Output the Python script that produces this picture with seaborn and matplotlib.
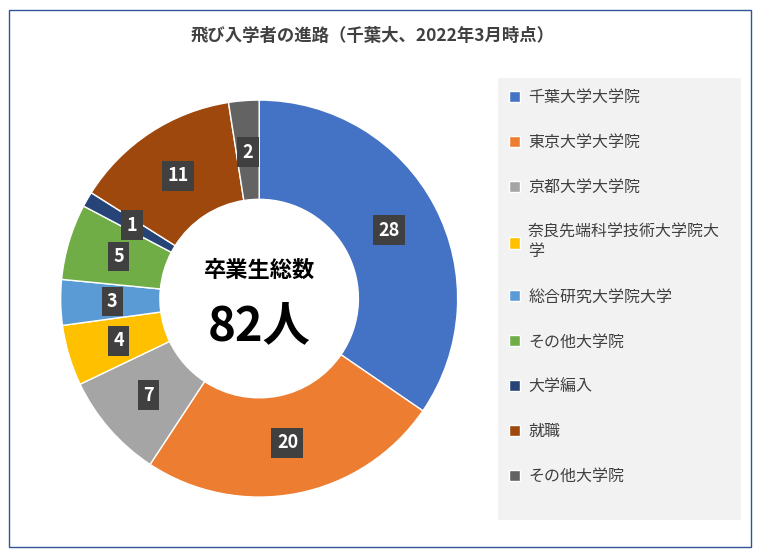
import matplotlib
matplotlib.use("Agg")
import matplotlib.pyplot as plt
import seaborn as sns
import numpy as np

plt.rcParams["font.family"] = ["Noto Sans CJK JP"]

categories = ["千葉大学大学院", "東京大学大学院", "京都大学大学院", "奈良先端科学技術大学院大\n学",
              "総合研究大学院大学", "その他大学院", "大学編入", "就職", "その他大学院"]
counts = [28, 20, 7, 4, 3, 5, 1, 11, 2]
colors = sns.color_palette(["#4472C4", "#ED7D31", "#A5A5A5", "#FFC000", "#5B9BD5",
                            "#70AD47", "#264478", "#9E480E", "#636363"])
title = "飛び入学者の進路（千葉大、2022年3月時点）"
center_top = "卒業生総数"
center_bottom = "82人"

sns.set_theme(style="white", rc={"font.family": "Noto Sans CJK JP"})
fig = plt.figure(figsize=(7.6, 5.56), dpi=100)
fig.patches.append(plt.Rectangle((0.012, 0.016), 0.976, 0.966, transform=fig.transFigure,
                                 fill=False, edgecolor="#2F5597", linewidth=1))
fig.text(0.49, 0.935, title, ha="center", va="center", fontsize=12.5, fontweight="bold", color="#404040")

ax = fig.add_axes([0.079, 0.106, 0.524, 0.714])
wedges, _ = ax.pie(counts, colors=colors, startangle=90, counterclock=False,
                   wedgeprops=dict(width=0.5, edgecolor="white", linewidth=1))
ax.set_xlim(-1.0, 1.0)
ax.set_ylim(-1.0, 1.0)
ax.set_aspect("equal")

for w, v in zip(wedges, counts):
    ang = np.deg2rad((w.theta1 + w.theta2) / 2)
    r = 0.74
    ax.text(r * np.cos(ang), r * np.sin(ang), str(v), ha="center", va="center",
            fontsize=13, fontweight="bold", color="white",
            bbox=dict(boxstyle="square,pad=0.3", facecolor="#404040", edgecolor="none"))

ax.text(0, 0.14, center_top, ha="center", va="center", fontsize=16, fontweight="bold", color="black")
ax.text(0, -0.14, center_bottom, ha="center", va="center", fontsize=34, fontweight="bold", color="black")

lax = fig.add_axes([0.655, 0.065, 0.32, 0.795])
lax.set_facecolor("#F2F2F2")
lax.set_xticks([])
lax.set_yticks([])
for s in lax.spines.values():
    s.set_visible(False)
lax.legend(wedges, categories, loc="upper left", bbox_to_anchor=(0.0, 1.0), frameon=False,
           fontsize=11.5, handlelength=0.7, handleheight=0.7, labelspacing=1.75,
           handletextpad=0.5, borderaxespad=0.3, labelcolor="#404040")

fig.savefig("out.png", dpi=100)
